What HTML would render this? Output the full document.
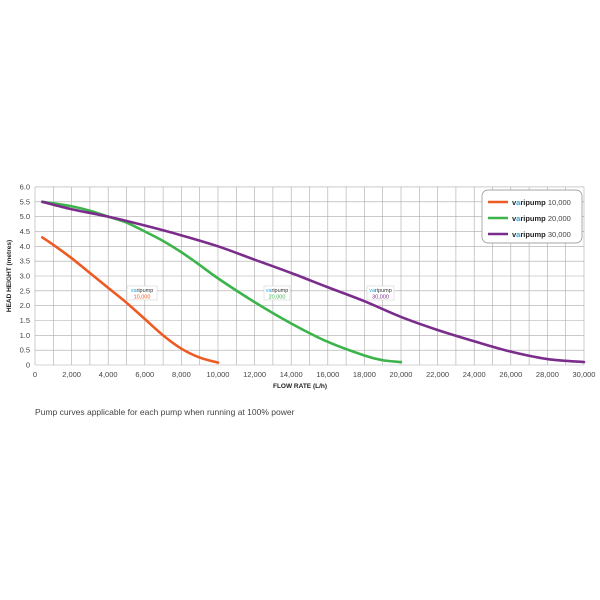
<!DOCTYPE html>
<html><head><style>body{margin:0;background:#fff}svg{display:block}text{font-family:"Liberation Sans",sans-serif}</style></head>
<body>
<svg id="s" width="600" height="600" xmlns="http://www.w3.org/2000/svg">
<g id="grid" stroke="#aaa" stroke-width="0.6"></g>
<g id="ticks" font-size="7.5" fill="#444"></g>
<text x="300" y="388" font-size="6.5" font-weight="bold" text-anchor="middle" fill="#222">FLOW RATE (L/h)</text>
<text transform="translate(11,276) rotate(-90)" font-size="6.5" font-weight="bold" text-anchor="middle" fill="#222">HEAD HEIGHT (metres)</text>
<g id="curves" fill="none" stroke-width="2.6" stroke-linecap="round"></g>
<g font-size="5.5">
<rect x="127" y="286" width="30" height="14" fill="#fff" stroke="#ccc" stroke-width="0.5"/>
<text x="142" y="292" text-anchor="middle" fill="#333"><tspan fill="#29a9e0">va</tspan>ripump</text><text x="142" y="298.5" text-anchor="middle" fill="#ee5a24">10,000</text>
<rect x="264" y="286" width="26" height="14" fill="#fff" stroke="#ccc" stroke-width="0.5"/>
<text x="277" y="292" text-anchor="middle" fill="#333"><tspan fill="#29a9e0">va</tspan>ripump</text><text x="277" y="298.5" text-anchor="middle" fill="#3cb44b">20,000</text>
<rect x="367" y="286" width="27" height="14" fill="#fff" stroke="#ccc" stroke-width="0.5"/>
<text x="380.5" y="292" text-anchor="middle" fill="#333"><tspan fill="#29a9e0">va</tspan>ripump</text><text x="380.5" y="298.5" text-anchor="middle" fill="#7b2d8b">30,000</text>
</g>
<rect x="482" y="190" width="100" height="53" rx="6" fill="#fff" stroke="#888" stroke-width="0.7"/>
<g stroke-width="2.4"><line x1="488" y1="202" x2="508" y2="202" stroke="#ee5a24"/><line x1="488" y1="218" x2="508" y2="218" stroke="#3cb44b"/><line x1="488" y1="234" x2="508" y2="234" stroke="#7b2d8b"/></g>
<g font-size="7.5" fill="#444">
<text x="512" y="205"><tspan font-weight="bold" fill="#222">v<tspan fill="#29a9e0">a</tspan>ripump</tspan> 10,000</text>
<text x="512" y="221"><tspan font-weight="bold" fill="#222">v<tspan fill="#29a9e0">a</tspan>ripump</tspan> 20,000</text>
<text x="512" y="237"><tspan font-weight="bold" fill="#222">v<tspan fill="#29a9e0">a</tspan>ripump</tspan> 30,000</text>
</g>
<text x="35" y="415" font-size="8.5" fill="#444">Pump curves applicable for each pump when running at 100% power</text>
</svg>
<script>
const X=v=>35+v*549/30000, Y=h=>365-h*29.67, NS="http://www.w3.org/2000/svg";
const g=document.getElementById('grid'),t=document.getElementById('ticks'),c=document.getElementById('curves');
function el(p,n,a,txt){const e=document.createElementNS(NS,n);for(const k in a)e.setAttribute(k,a[k]);if(txt)e.textContent=txt;p.appendChild(e);}
for(let v=0;v<=30000;v+=1000)el(g,'line',{x1:X(v),x2:X(v),y1:Y(6),y2:Y(0)});
for(let h=0;h<=6.001;h+=0.5)el(g,'line',{x1:X(0),x2:X(30000),y1:Y(h),y2:Y(h)});
for(let v=0;v<=30000;v+=2000)el(t,'text',{x:X(v),y:377,'text-anchor':'middle'},v?v.toLocaleString('en-US'):'0');
for(let i=0;i<=12;i++){const h=i*0.5;el(t,'text',{x:30,y:Y(h)+2.5,'text-anchor':'end'},h?h.toFixed(1):'0');}
function path(pts){pts=pts.map(p=>[X(p[0]),Y(p[1])]);let d='M'+pts[0];for(let i=0;i<pts.length-1;i++){const p0=pts[i-1]||pts[i],p1=pts[i],p2=pts[i+1],p3=pts[i+2]||p2;d+=' C'+[p1[0]+(p2[0]-p0[0])/6,p1[1]+(p2[1]-p0[1])/6]+' '+[p2[0]-(p3[0]-p1[0])/6,p2[1]-(p3[1]-p1[1])/6]+' '+p2;}return d;}
const O=[[400,4.3],[1000,4.05],[2000,3.6],[3000,3.1],[4000,2.6],[5000,2.1],[6000,1.55],[7000,1.0],[8000,0.55],[9000,0.25],[10000,0.08]];
const G=[[400,5.5],[1000,5.45],[2000,5.35],[3000,5.2],[4000,5.0],[5000,4.8],[6000,4.5],[7000,4.18],[8000,3.8],[9000,3.37],[10000,2.92],[12000,2.12],[14000,1.4],[16000,0.78],[18000,0.32],[19000,0.16],[20000,0.1]];
const P=[[400,5.5],[2000,5.25],[4000,5.0],[6000,4.7],[8000,4.37],[10000,4.0],[12000,3.55],[14000,3.1],[16000,2.62],[18000,2.15],[20000,1.62],[22000,1.18],[24000,0.8],[26000,0.45],[28000,0.2],[30000,0.1]];
el(c,'path',{d:path(O),stroke:'#ee5a24'});el(c,'path',{d:path(G),stroke:'#3cb44b'});el(c,'path',{d:path(P),stroke:'#7b2d8b'});
</script>
</body></html>
